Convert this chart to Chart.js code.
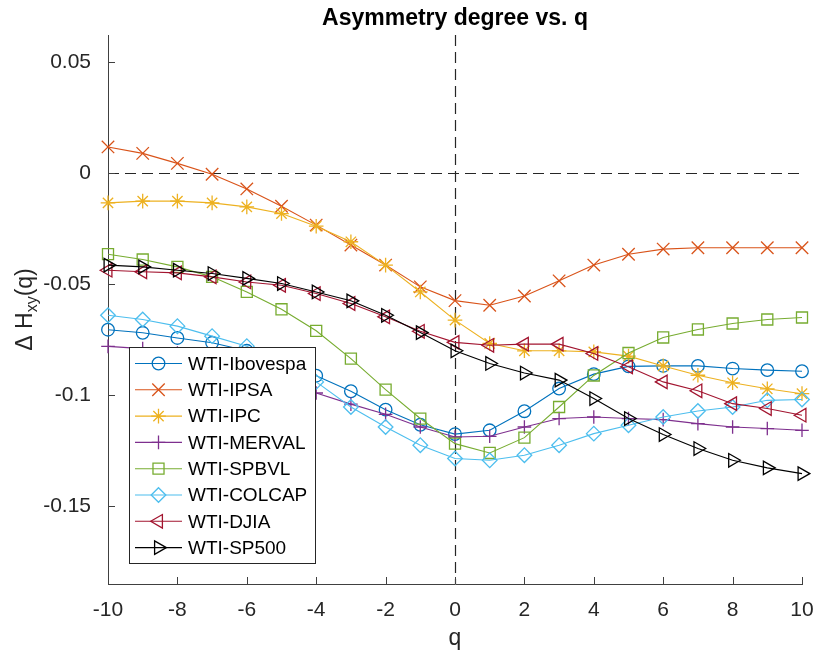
<!DOCTYPE html>
<html>
<head>
<meta charset="utf-8">
<script src="https://cdn.jsdelivr.net/npm/chart.js@4.4.0/dist/chart.umd.min.js"></script>
<style>
  html, body { margin: 0; padding: 0; background: #fff; }
  canvas { display: block; }
</style>
</head>
<body>
<canvas id="asym" width="815" height="655"></canvas>
<script>
const q = [-10, -9, -8, -7, -6, -5, -4, -3, -2, -1, 0, 1, 2, 3, 4, 5, 6, 7, 8, 9, 10];

const seriesNames = ['WTI-Ibovespa', 'WTI-IPSA', 'WTI-IPC', 'WTI-MERVAL',
  'WTI-SPBVL', 'WTI-COLCAP', 'WTI-DJIA', 'WTI-SP500'];

const ibovespa = [-0.0705, -0.0719, -0.0742, -0.0764, -0.0800, -0.0850, -0.0912, -0.0982, -0.1065, -0.1133, -0.1175,
  -0.1158, -0.1072, -0.0970, -0.0905, -0.0870, -0.0868, -0.0868, -0.0880, -0.0887, -0.0892];
const ipsa = [0.0118, 0.0089, 0.0044, -0.0005, -0.0071, -0.0149, -0.0234, -0.0324, -0.0414, -0.0512, -0.0574,
  -0.0595, -0.0553, -0.0485, -0.0414, -0.0365, -0.0342, -0.0336, -0.0336, -0.0336, -0.0336];
const ipc = [-0.0134, -0.0126, -0.0126, -0.0134, -0.0152, -0.0182, -0.0239, -0.0309, -0.0414, -0.0535, -0.0662,
  -0.0767, -0.0800, -0.0800, -0.0805, -0.0824, -0.0868, -0.0910, -0.0944, -0.0971, -0.0993];
const merval = [-0.0780, -0.0790, -0.0810, -0.0840, -0.0880, -0.0930, -0.0990, -0.1040, -0.1086, -0.1143, -0.1188,
  -0.1185, -0.1143, -0.1105, -0.1098, -0.1105, -0.1110, -0.1128, -0.1143, -0.1150, -0.1158];
const spbvl = [-0.0365, -0.0389, -0.0422, -0.0467, -0.0535, -0.0613, -0.0710, -0.0835, -0.0975, -0.1105, -0.1218,
  -0.1260, -0.1191, -0.1053, -0.0911, -0.0810, -0.0740, -0.0704, -0.0677, -0.0659, -0.0650];
const colcap = [-0.0640, -0.0659, -0.0689, -0.0734, -0.0779, -0.0860, -0.0940, -0.1053, -0.1143, -0.1225, -0.1285,
  -0.1293, -0.1270, -0.1225, -0.1173, -0.1135, -0.1098, -0.1071, -0.1053, -0.1023, -0.1019];
const djia = [-0.0437, -0.0444, -0.0449, -0.0467, -0.0490, -0.0505, -0.0542, -0.0587, -0.0647, -0.0712, -0.0762,
  -0.0775, -0.0770, -0.0770, -0.0812, -0.0872, -0.0940, -0.0980, -0.1038, -0.1060, -0.1090];
const sp500 = [-0.0414, -0.0422, -0.0437, -0.0452, -0.0474, -0.0497, -0.0535, -0.0575, -0.0640, -0.0718, -0.0800,
  -0.0857, -0.0900, -0.0932, -0.1015, -0.1105, -0.1177, -0.1240, -0.1293, -0.1327, -0.1353];

const xTicks = [-10, -8, -6, -4, -2, 0, 2, 4, 6, 8, 10];
const yTicks = [-0.15, -0.1, -0.05, 0, 0.05];

// matlab default line colours + markers
const styles = [
  { color: '#0072BD', shape: 'circle', r: 6.3, rot: 0 },
  { color: '#D95319', shape: 'crossRot', r: 8.8, rot: 0 },
  { color: '#EDB120', shape: 'star', r: 7.3, rot: 0 },
  { color: '#7E2F8E', shape: 'cross', r: 6.8, rot: 0 },
  { color: '#77AC30', shape: 'rect', r: 7.8, rot: 0 },
  { color: '#4DBEEE', shape: 'rectRot', r: 7.3, rot: 0 },
  { color: '#A2142F', shape: 'triangle', r: 7.8, rot: -90 },
  { color: '#000000', shape: 'triangle', r: 7.8, rot: 90 }
];

const allSeries = [ibovespa, ipsa, ipc, merval, spbvl, colcap, djia, sp500];
const AXIS = '#262626';
const FONT = '"Liberation Sans", Arial, Helvetica, sans-serif';

const datasets = allSeries.map((vals, i) => ({
  label: seriesNames[i],
  data: vals.map((v, k) => ({ x: q[k], y: v })),
  borderColor: styles[i].color,
  borderWidth: 1.1,
  pointStyle: styles[i].shape,
  pointRadius: styles[i].r,
  pointRotation: styles[i].rot,
  pointBorderColor: styles[i].color,
  pointBackgroundColor: 'rgba(0,0,0,0)',
  pointBorderWidth: 1.3,
  tension: 0,
  clip: false,
  order: -i
}));

const matlabLook = {
  id: 'matlabLook',
  beforeDatasetsDraw(chart) {
    const { ctx, chartArea: a, scales: { x, y } } = chart;
    ctx.save();
    // dashed zero lines
    ctx.strokeStyle = AXIS;
    ctx.lineWidth = 1.2;
    ctx.setLineDash([11, 6]);
    const x0 = Math.round(x.getPixelForValue(0)) + 0.5;
    const y0 = Math.round(y.getPixelForValue(0)) + 0.5;
    ctx.beginPath();
    ctx.moveTo(a.left, y0); ctx.lineTo(a.right, y0);
    ctx.moveTo(x0, a.top); ctx.lineTo(x0, a.bottom);
    ctx.stroke();
    // inward tick marks
    ctx.setLineDash([]);
    ctx.lineWidth = 1;
    ctx.strokeStyle = '#404040';
    ctx.beginPath();
    yTicks.forEach(v => {
      const py = Math.round(y.getPixelForValue(v)) + 0.5;
      ctx.moveTo(a.left, py); ctx.lineTo(a.left + 7, py);
    });
    xTicks.forEach(v => {
      const px = Math.round(x.getPixelForValue(v)) + 0.5;
      ctx.moveTo(px, a.bottom); ctx.lineTo(px, a.bottom - 7);
    });
    ctx.stroke();
    ctx.restore();
  },
  afterDraw(chart) {
    const { ctx, chartArea: a } = chart;
    ctx.save();
    ctx.fillStyle = '#000';
    // title
    ctx.font = 'bold 23px ' + FONT;
    ctx.textAlign = 'center';
    ctx.textBaseline = 'alphabetic';
    ctx.fillText('Asymmetry degree vs. q', (a.left + a.right) / 2, 25);
    // x label
    ctx.fillStyle = AXIS;
    ctx.font = '23px ' + FONT;
    ctx.fillText('q', (a.left + a.right) / 2, 645);
    // y label with subscript
    ctx.save();
    ctx.translate(32, (a.top + a.bottom) / 2);
    ctx.rotate(-Math.PI / 2);
    ctx.textAlign = 'left';
    const mainFont = '23px ' + FONT, subFont = '16px ' + FONT;
    ctx.font = mainFont; const w1 = ctx.measureText('\u0394 H').width;
    const w3 = ctx.measureText('(q)').width;
    ctx.font = subFont; const w2 = ctx.measureText('xy').width;
    let sx = -(w1 + w2 + w3) / 2;
    ctx.font = mainFont; ctx.fillText('\u0394 H', sx, 0); sx += w1;
    ctx.font = subFont; ctx.fillText('xy', sx, 5); sx += w2;
    ctx.font = mainFont; ctx.fillText('(q)', sx, 0);
    ctx.restore();

    // legend box
    const bx = 129.5, by = 347.5, bw = 186, bh = 216;
    ctx.fillStyle = '#fff';
    ctx.fillRect(bx, by, bw, bh);
    ctx.strokeStyle = AXIS;
    ctx.lineWidth = 1;
    ctx.strokeRect(bx, by, bw, bh);
    ctx.font = '19px ' + FONT;
    ctx.textAlign = 'left';
    ctx.textBaseline = 'middle';
    chart.data.datasets.forEach((ds, i) => {
      const cy = 363.5 + i * 26.3;
      ctx.strokeStyle = ds.borderColor;
      ctx.lineWidth = 1.1;
      ctx.beginPath();
      ctx.moveTo(135, cy); ctx.lineTo(182, cy);
      ctx.stroke();
      ctx.fillStyle = 'rgba(0,0,0,0)';
      ctx.lineWidth = ds.pointBorderWidth;
      Chart.helpers.drawPoint(ctx, {
        pointStyle: ds.pointStyle, radius: ds.pointRadius,
        rotation: ds.pointRotation, borderWidth: ds.pointBorderWidth
      }, 158.5, cy);
      ctx.fillStyle = '#000';
      ctx.fillText(ds.label, 188, cy + 1);
    });
    ctx.restore();
  }
};

new Chart(document.getElementById('asym'), {
  type: 'line',
  data: { datasets },
  options: {
    responsive: false,
    animation: false,
    events: [],
    layout: { padding: { top: 35, right: 0, left: 0, bottom: 0 } },
    plugins: { legend: { display: false }, title: { display: false }, tooltip: { enabled: false } },
    scales: {
      x: {
        type: 'linear',
        min: -10, max: 10,
        afterBuildTicks: s => { s.ticks = xTicks.map(v => ({ value: v })); },
        afterFit: s => { s.height = 71; s.paddingRight = 13; },
        grid: { display: false },
        border: { display: true, color: '#404040', width: 1 },
        ticks: { color: AXIS, font: { family: FONT, size: 21 }, padding: 6, maxRotation: 0, callback: v => String(v) }
      },
      y: {
        type: 'linear',
        min: -0.185, max: 0.0622,
        afterBuildTicks: s => { s.ticks = yTicks.map(v => ({ value: v })); },
        afterFit: s => { s.width = 108; },
        grid: { display: false },
        border: { display: true, color: '#404040', width: 1 },
        ticks: { color: AXIS, font: { family: FONT, size: 21 }, padding: 9, callback: v => String(v) }
      }
    }
  },
  plugins: [matlabLook]
});
</script>
</body>
</html>
